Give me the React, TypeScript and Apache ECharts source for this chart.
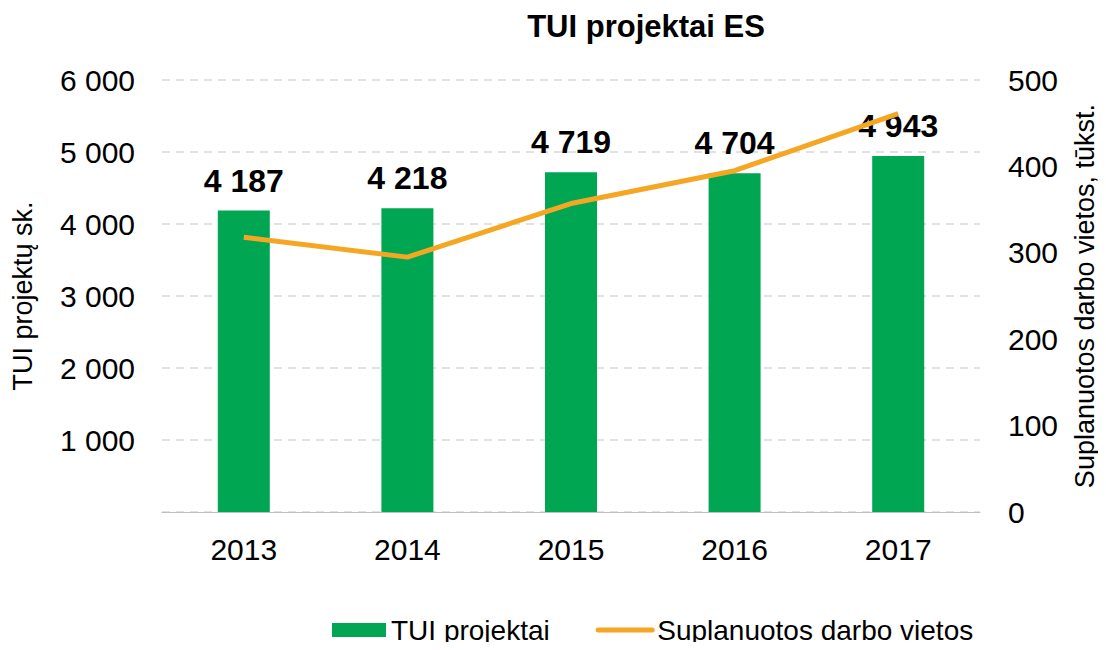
import React, { useEffect, useRef } from "react";
import * as echarts from "echarts";

const categories = ["2013", "2014", "2015", "2016", "2017"];
const projects = [4187, 4218, 4719, 4704, 4943];
const jobs = [318, 295, 357, 395, 461];

const fmt = (v: number) => String(v).replace(/\B(?=(\d{3})+(?!\d))/g, " ");

export default function App() {
  const ref = useRef<HTMLDivElement>(null);
  useEffect(() => {
    const chart = echarts.init(ref.current!, null, { renderer: "svg" });
    const font = "Liberation Sans, Arial, sans-serif";
    chart.setOption({
      animation: false,
      textStyle: { fontFamily: font },
      title: {
        text: "TUI projektai ES",
        left: 641,
        textAlign: "center",
        top: 6,
        textStyle: { fontSize: 31, fontWeight: "bold", color: "#000", fontFamily: font },
      },
      legend: {
        bottom: 1,
        left: 327,
        itemGap: 46,
        itemWidth: 54,
        itemHeight: 14,
        textStyle: { fontSize: 28, color: "#000", fontFamily: font },
        data: [
          { name: "TUI projektai", icon: "rect" },
          {
            name: "Suplanuotos darbo vietos",
            itemStyle: { opacity: 0, borderWidth: 0 },
            lineStyle: { width: 5, cap: "round", color: "#f5a623" },
          },
        ],
      },
      grid: { left: 162, right: 119, top: 80, bottom: 138, containLabel: false },
      xAxis: {
        type: "category",
        data: categories,
        axisLine: { lineStyle: { color: "#bfbfbf", width: 1 } },
        axisTick: { show: false },
        axisLabel: { fontSize: 30, color: "#000", margin: 22, fontFamily: font },
      },
      yAxis: [
        {
          type: "value",
          min: 0,
          max: 6000,
          interval: 1000,
          name: "TUI projektų sk.",
          nameLocation: "middle",
          nameGap: 126,
          nameRotate: 90,
          nameTextStyle: { fontSize: 27, color: "#000", fontFamily: font },
          axisLine: { show: false },
          axisTick: { show: false },
          axisLabel: { fontSize: 30, color: "#000", margin: 27, formatter: (v: number) => (v === 0 ? "" : fmt(v)), fontFamily: font },
          splitLine: { lineStyle: { color: "#d9d9d9", type: [8, 6], width: 1.5 } },
        },
        {
          type: "value",
          min: 0,
          max: 500,
          interval: 100,
          name: "Suplanuotos darbo vietos, tūkst.",
          nameLocation: "middle",
          nameGap: 91,
          nameRotate: 90,
          nameTextStyle: { fontSize: 27, color: "#000", fontFamily: font },
          axisLine: { show: false },
          axisTick: { show: false },
          axisLabel: { fontSize: 30, color: "#000", margin: 28, fontFamily: font },
          splitLine: { show: false },
        },
      ],
      series: [
        {
          name: "TUI projektai",
          type: "bar",
          data: projects,
          barWidth: 52,
          itemStyle: { color: "#00a651" },
          label: {
            show: true,
            position: "top",
            distance: 14,
            fontSize: 32,
            fontWeight: "bold",
            color: "#000",
            fontFamily: font,
            formatter: (p: any) => fmt(p.value),
          },
        },
        {
          name: "Suplanuotos darbo vietos",
          type: "line",
          yAxisIndex: 1,
          data: jobs,
          symbol: "none",
          lineStyle: { color: "#f5a623", width: 5 },
          itemStyle: { color: "#f5a623" },
        },
      ],
    });
    return () => chart.dispose();
  }, []);
  return <div ref={ref} style={{ width: 1106, height: 650, margin: -8 }} />;
}
